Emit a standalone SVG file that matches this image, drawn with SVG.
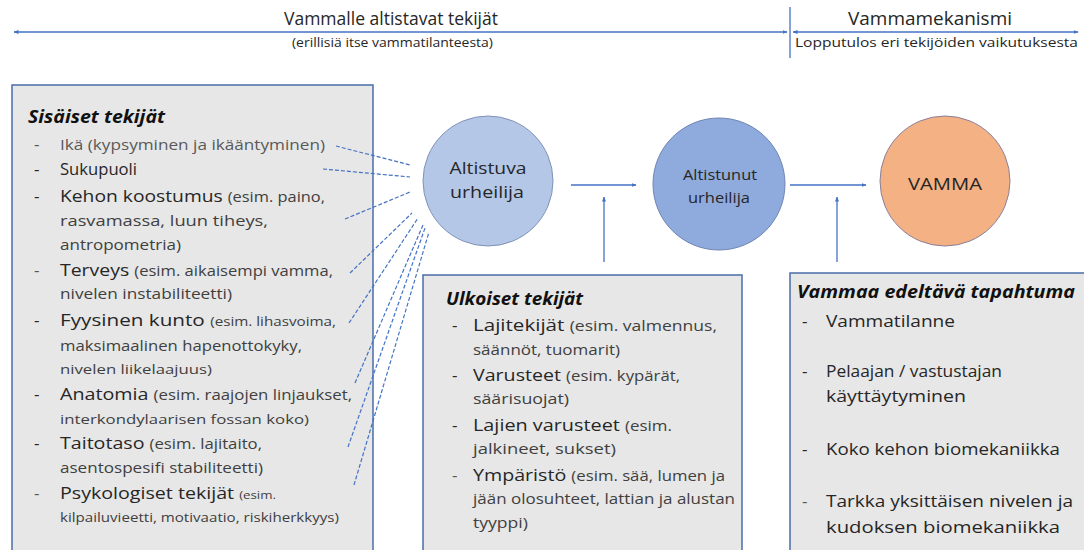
<svg xmlns="http://www.w3.org/2000/svg" width="1084" height="550" viewBox="0 0 1084 550">
<defs>
<marker id="ah" viewBox="0 0 10 10" refX="9" refY="5" markerWidth="5" markerHeight="5" orient="auto-start-reverse" markerUnits="userSpaceOnUse"><path d="M0,1 L10,5 L0,9 z" fill="#4472c4"/></marker>
<style>
text{font-family:"Open Sans","DejaVu Sans",sans-serif;fill:#262626}
.h{font-weight:bold;font-style:italic;font-size:17px;fill:#111}
.m{font-size:17px}
.s{font-size:14.5px;fill:#404040}
.g{fill:#595959}
.box{fill:#e7e7e7;stroke:#4a6ea9;stroke-width:1.5}
.ln{stroke:#4472c4;stroke-width:1.3;fill:none}
.dl{stroke:#4472c4;stroke-width:1.2;stroke-dasharray:4 2;fill:none}
.c{text-anchor:middle}
</style>
</defs>
<rect width="1084" height="550" fill="#fff"/>

<g id="header">
<line class="ln" x1="14" y1="32" x2="787" y2="32" stroke="#8eaadb" marker-start="url(#ah)" marker-end="url(#ah)"/>
<line class="ln" x1="793" y1="32" x2="1078" y2="32" marker-start="url(#ah)" marker-end="url(#ah)"/>
<line class="ln" x1="790" y1="7" x2="790" y2="58" stroke-width="1.5"/>
<text x="284" y="25" font-size="18" textLength="214" lengthAdjust="spacingAndGlyphs">Vammalle altistavat tekijät</text>
<text x="292" y="47" font-size="12.5" textLength="201" lengthAdjust="spacingAndGlyphs">(erillisiä itse vammatilanteesta)</text>
<text x="848" y="25" font-size="18" textLength="164" lengthAdjust="spacingAndGlyphs">Vammamekanismi</text>
<text x="795" y="47" font-size="12.5" textLength="283" lengthAdjust="spacingAndGlyphs">Lopputulos eri tekijöiden vaikutuksesta</text>
</g>

<g id="sisaiset">
<rect class="box" x="12" y="85" width="361" height="480"/>
<text class="h" x="28" y="123" textLength="137" lengthAdjust="spacingAndGlyphs">Sisäiset tekijät</text>
<g class="m">
<text x="34" y="150" class="g">-</text><text x="34" y="175">-</text><text x="34" y="202">-</text><text x="34" y="276" class="g">-</text><text x="34" y="326">-</text><text x="34" y="400">-</text><text x="34" y="449">-</text><text x="34" y="499" class="g">-</text>
</g>
<text x="60" y="150" class="s g" style="font-size:15px" textLength="265" lengthAdjust="spacingAndGlyphs">Ikä (kypsyminen ja ikääntyminen)</text>
<text x="60" y="175" class="m" textLength="77" lengthAdjust="spacingAndGlyphs">Sukupuoli</text>
<text x="60" y="202" textLength="265" lengthAdjust="spacingAndGlyphs"><tspan class="m">Kehon koostumus </tspan><tspan class="s">(esim. paino,</tspan></text>
<text x="60" y="226" class="s" textLength="208" lengthAdjust="spacingAndGlyphs">rasvamassa, luun tiheys,</text>
<text x="60" y="250" class="s" textLength="121" lengthAdjust="spacingAndGlyphs">antropometria)</text>
<text x="60" y="276" textLength="273" lengthAdjust="spacingAndGlyphs"><tspan class="m">Terveys </tspan><tspan class="s">(esim. aikaisempi vamma,</tspan></text>
<text x="60" y="299" class="s" textLength="172" lengthAdjust="spacingAndGlyphs">nivelen instabiliteetti)</text>
<text x="60" y="326" textLength="276" lengthAdjust="spacingAndGlyphs"><tspan class="m">Fyysinen kunto </tspan><tspan class="s" style="font-size:12.5px">(esim. lihasvoima,</tspan></text>
<text x="60" y="351" class="s" textLength="242" lengthAdjust="spacingAndGlyphs">maksimaalinen hapenottokyky,</text>
<text x="60" y="374" class="s" style="font-size:12.5px" textLength="152" lengthAdjust="spacingAndGlyphs">nivelen liikelaajuus)</text>
<text x="60" y="400" textLength="292" lengthAdjust="spacingAndGlyphs"><tspan class="m">Anatomia </tspan><tspan class="s">(esim. raajojen linjaukset,</tspan></text>
<text x="60" y="424" class="s" style="font-size:12.5px" textLength="249" lengthAdjust="spacingAndGlyphs">interkondylaarisen fossan koko)</text>
<text x="60" y="449" textLength="202" lengthAdjust="spacingAndGlyphs"><tspan class="m">Taitotaso </tspan><tspan class="s">(esim. lajitaito,</tspan></text>
<text x="60" y="473" class="s" textLength="203" lengthAdjust="spacingAndGlyphs">asentospesifi stabiliteetti)</text>
<text x="60" y="499" textLength="216" lengthAdjust="spacingAndGlyphs"><tspan class="m">Psykologiset tekijät </tspan><tspan class="s" style="font-size:11.5px">(esim.</tspan></text>
<text x="60" y="522" class="s" style="font-size:12.5px" textLength="279" lengthAdjust="spacingAndGlyphs">kilpailuvieetti, motivaatio, riskiherkkyys)</text>
</g>

<g id="altistuva">
<circle cx="488" cy="181" r="65" fill="#b4c7e7" stroke="#7f93b8" stroke-width="1"/>
<text class="c" x="488" y="174" font-size="16.5" textLength="77" lengthAdjust="spacingAndGlyphs">Altistuva</text>
<text class="c" x="487" y="198" font-size="16.5" textLength="74" lengthAdjust="spacingAndGlyphs">urheilija</text>
</g>

<g id="altistunut">
<circle cx="719" cy="184" r="66" fill="#8faadc" stroke="#6f86b3" stroke-width="1"/>
<text class="c" x="720" y="180" font-size="14" textLength="74" lengthAdjust="spacingAndGlyphs">Altistunut</text>
<text class="c" x="719" y="203" font-size="14" textLength="62" lengthAdjust="spacingAndGlyphs">urheilija</text>
</g>

<g id="vamma">
<circle cx="945" cy="181" r="65" fill="#f4b183" stroke="#8a7f9a" stroke-width="1"/>
<text class="c" x="945" y="190" font-size="17" textLength="74" lengthAdjust="spacingAndGlyphs">VAMMA</text>
</g>

<g id="ulkoiset">
<rect class="box" x="423" y="275" width="319" height="290" stroke="#6f8fc4"/>
<text class="h" x="446" y="305" textLength="137" lengthAdjust="spacingAndGlyphs">Ulkoiset tekijät</text>
<g class="m">
<text x="452" y="331">-</text><text x="452" y="381">-</text><text x="452" y="431">-</text><text x="452" y="481" class="g">-</text>
</g>
<text x="473" y="331" textLength="244" lengthAdjust="spacingAndGlyphs"><tspan class="m">Lajitekijät </tspan><tspan class="s">(esim. valmennus,</tspan></text>
<text x="473" y="355" class="s" textLength="147" lengthAdjust="spacingAndGlyphs">säännöt, tuomarit)</text>
<text x="473" y="381" textLength="207" lengthAdjust="spacingAndGlyphs"><tspan class="m">Varusteet </tspan><tspan class="s">(esim. kypärät,</tspan></text>
<text x="473" y="404" class="s" textLength="96" lengthAdjust="spacingAndGlyphs">säärisuojat)</text>
<text x="473" y="431" textLength="199" lengthAdjust="spacingAndGlyphs"><tspan class="m">Lajien varusteet </tspan><tspan class="s">(esim.</tspan></text>
<text x="473" y="454" class="s" textLength="143" lengthAdjust="spacingAndGlyphs">jalkineet, sukset)</text>
<text x="473" y="481" textLength="252" lengthAdjust="spacingAndGlyphs"><tspan class="m">Ympäristö </tspan><tspan class="s">(esim. sää, lumen ja</tspan></text>
<text x="473" y="504" class="s" textLength="262" lengthAdjust="spacingAndGlyphs">jään olosuhteet, lattian ja alustan</text>
<text x="473" y="528" class="s" textLength="55" lengthAdjust="spacingAndGlyphs">tyyppi)</text>
</g>

<g id="edeltava">
<rect class="box" x="790" y="273" width="300" height="292"/>
<text class="h" x="797" y="298" textLength="278" lengthAdjust="spacingAndGlyphs">Vammaa edeltävä tapahtuma</text>
<g class="m">
<text x="802" y="327">-</text><text x="802" y="377">-</text><text x="802" y="455">-</text><text x="802" y="507" class="g">-</text>
</g>
<text x="826" y="327" class="m" textLength="129" lengthAdjust="spacingAndGlyphs">Vammatilanne</text>
<text x="826" y="377" class="m" textLength="176" lengthAdjust="spacingAndGlyphs">Pelaajan / vastustajan</text>
<text x="826" y="402" class="m" textLength="140" lengthAdjust="spacingAndGlyphs">käyttäytyminen</text>
<text x="826" y="455" class="m" textLength="234" lengthAdjust="spacingAndGlyphs">Koko kehon biomekaniikka</text>
<text x="826" y="507" class="m" textLength="247" lengthAdjust="spacingAndGlyphs">Tarkka yksittäisen nivelen ja</text>
<text x="826" y="533" class="m" textLength="234" lengthAdjust="spacingAndGlyphs">kudoksen biomekaniikka</text>
</g>

<g id="connectors">
<line class="dl" x1="336" y1="146" x2="410" y2="165"/>
<line class="dl" x1="323" y1="169" x2="410" y2="177"/>
<line class="dl" x1="345" y1="219" x2="410" y2="192"/>
<line class="dl" x1="350" y1="273" x2="412" y2="213"/>
<line class="dl" x1="349" y1="323" x2="418" y2="218"/>
<line class="dl" x1="355" y1="383" x2="423" y2="225"/>
<line class="dl" x1="348" y1="447" x2="425" y2="228"/>
<line class="dl" x1="354" y1="485" x2="429" y2="232"/>
<line class="ln" x1="571" y1="185" x2="636" y2="185" marker-end="url(#ah)"/>
<line class="ln" x1="604" y1="262" x2="604" y2="197" marker-end="url(#ah)"/>
<line class="ln" x1="790" y1="185" x2="866" y2="185" marker-end="url(#ah)"/>
<line class="ln" x1="837" y1="262" x2="837" y2="197" marker-end="url(#ah)"/>
</g>
</svg>
